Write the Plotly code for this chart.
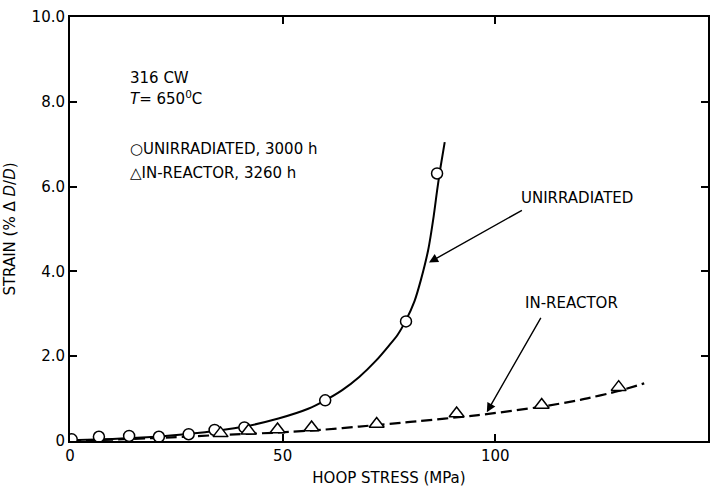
import plotly.graph_objects as go

# ---- data ----
unirr_curve_x = [0, 10, 20, 28, 35, 41, 49, 56, 60, 64, 68, 72, 75, 77, 79, 81, 82.5, 84.2, 85.5, 86.3, 87.1, 88.1]
unirr_curve_y = [0.02, 0.05, 0.1, 0.17, 0.25, 0.34, 0.53, 0.76, 0.96, 1.2, 1.51, 1.9, 2.25, 2.5, 2.85, 3.3, 3.8, 4.5, 5.3, 5.9, 6.45, 7.05]

inrx_curve_x = [0, 20, 35, 49, 60, 68, 80, 96, 111, 120, 129, 135]
inrx_curve_y = [0.0, 0.07, 0.14, 0.2, 0.27, 0.34, 0.45, 0.61, 0.81, 0.97, 1.18, 1.36]

unirr_pts_x = [0.4, 6.8, 13.9, 20.9, 27.9, 34, 41, 60, 79, 86.3]
unirr_pts_y = [0.04, 0.1, 0.12, 0.1, 0.16, 0.26, 0.32, 0.96, 2.82, 6.31]

inrx_pts_x = [35.4, 42, 48.8, 56.8, 72.1, 90.9, 110.9, 129]
inrx_pts_y = [0.18, 0.24, 0.27, 0.32, 0.40, 0.65, 0.85, 1.27]

# arrow (tail -> head) positions in data units
arrow_unirr_x = [106.6, 84.4]
arrow_unirr_y = [5.46, 4.21]
arrow_inrx_x = [110.9, 98.0]
arrow_inrx_y = [2.94, 0.68]

x_ticks = [0, 50, 100, 150]
x_tick_text = ["0", "50", "100", "150"]
y_ticks = [0, 2, 4, 6, 8, 10]
y_tick_text = ["0", "2.0", "4.0", "6.0", "8.0", "10.0"]

FONT = "DejaVu Sans"

fig = go.Figure()
fig.add_trace(go.Scatter(x=unirr_curve_x, y=unirr_curve_y, mode="lines",
                         line=dict(color="black", width=2, shape="spline", smoothing=0.6),
                         showlegend=False, hoverinfo="skip"))
fig.add_trace(go.Scatter(x=inrx_curve_x, y=inrx_curve_y, mode="lines",
                         line=dict(color="black", width=2.2, dash="11px,5px", shape="spline", smoothing=0.6),
                         showlegend=False, hoverinfo="skip"))
fig.add_trace(go.Scatter(x=unirr_pts_x, y=unirr_pts_y, mode="markers",
                         marker=dict(symbol="circle", size=11, color="white",
                                     line=dict(color="black", width=1.5)),
                         showlegend=False))
fig.add_trace(go.Scatter(x=inrx_pts_x, y=inrx_pts_y, mode="markers",
                         marker=dict(symbol="triangle-up", size=13, color="white",
                                     line=dict(color="black", width=1.5)),
                         showlegend=False))

for ax_, ay_ in [(arrow_unirr_x, arrow_unirr_y), (arrow_inrx_x, arrow_inrx_y)]:
    fig.add_annotation(x=ax_[1], y=ay_[1], ax=ax_[0], ay=ay_[0],
                       xref="x", yref="y", axref="x", ayref="y",
                       text="", showarrow=True, arrowhead=2, arrowsize=1.3,
                       arrowwidth=1.4, arrowcolor="black")

font = dict(family=FONT, size=15, color="black")
ann = [
    dict(x=13.6, y=8.56, text="316 CW", xanchor="left"),
    dict(x=13.6, y=8.09, text="<i>T</i>= 650<sup>0</sup>C", xanchor="left"),
    dict(x=13.6, y=6.89, text="○UNIRRADIATED, 3000 h", xanchor="left"),
    dict(x=13.6, y=6.33, text="△IN-REACTOR, 3260 h", xanchor="left"),
    dict(x=119.1, y=5.72, text="UNIRRADIATED", xanchor="center"),
    dict(x=117.9, y=3.25, text="IN-REACTOR", xanchor="center"),
]
for a in ann:
    fig.add_annotation(xref="x", yref="y", showarrow=False, font=font, yanchor="middle", **a)

fig.update_layout(
    width=718, height=492,
    margin=dict(l=70, r=8, t=16, b=51),
    paper_bgcolor="white", plot_bgcolor="white",
    font=dict(family=FONT, size=14, color="black"),
    showlegend=False,
)
fig.update_xaxes(range=[0, 150], tickvals=x_ticks, ticktext=x_tick_text,
                 showgrid=False, zeroline=False, showline=True, linecolor="black", linewidth=2,
                 mirror="ticks", ticks="inside", ticklen=7, tickwidth=1.5, tickcolor="black",
                 tickfont=dict(size=15),
                 title=dict(text="HOOP STRESS (MPa)", font=dict(size=15), standoff=8))
fig.update_yaxes(range=[0, 10], tickvals=y_ticks, ticktext=y_tick_text,
                 showgrid=False, zeroline=False, showline=True, linecolor="black", linewidth=2,
                 mirror="ticks", ticks="inside", ticklen=7, tickwidth=1.5, tickcolor="black",
                 tickfont=dict(size=15),
                 title=dict(text="STRAIN (% Δ <i>D</i>/<i>D</i>)", font=dict(size=15), standoff=12))

fig.write_html("out.html")
